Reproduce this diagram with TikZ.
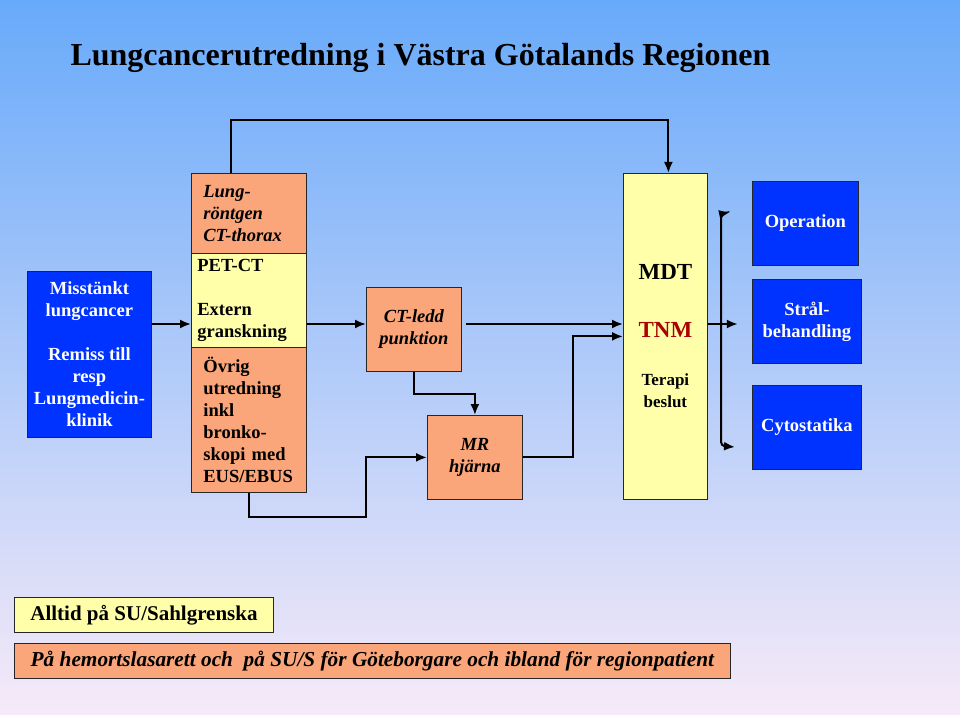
\documentclass[tikz,border=0pt]{standalone}
\usepackage{fontspec}
\setmainfont{Liberation Serif}
\usetikzlibrary{arrows.meta}

\definecolor{bluebox}{RGB}{0,51,255}
\definecolor{orangebox}{RGB}{250,166,122}
\definecolor{yellowbox}{RGB}{255,255,170}
\definecolor{tnmred}{RGB}{170,0,0}
\definecolor{bgtop}{RGB}{104,170,250}
\definecolor{bgmid}{RGB}{165,205,246}
\definecolor{bgbot}{RGB}{246,234,248}

\begin{document}
\begin{tikzpicture}[x=1pt, y=-1pt,
	box/.style={draw=black!85, line width=0.8pt, inner sep=0pt, anchor=north west},
	bluebx/.style={box, fill=bluebox, text=white, align=center, font=\bfseries\fontsize{18.5}{22}\selectfont},
	colbx/.style={box, align=left, text width=#1, font=\bfseries\fontsize{18.5}{22}\selectfont},
	conn/.style={line width=2pt, -{Latex[length=11pt,width=9pt]}}]

	% background
	\shade[top color=bgtop, middle color=bgmid, bottom color=bgbot] (0,0) rectangle (960,714);
	\useasboundingbox (0,0) rectangle (960,714);

	% title
	\node[anchor=west, font=\bfseries\fontsize{32}{36}\selectfont] (title) at (67,58) {Lungcancerutredning i Västra Götalands Regionen};

	% start
	\node[bluebx, minimum width=124pt, minimum height=166pt] (suspect) at (27,271)
		{Misstänkt\\lungcancer\\[22pt]Remiss till\\resp\\Lungmedicin-\\klinik};

	% middle column
	\node[colbx=91pt, fill=orangebox, minimum width=115pt, minimum height=80pt, inner xsep=12pt, font=\bfseries\itshape\fontsize{18.5}{22}\selectfont] (lung) at (191,173)
		{Lung-\\röntgen\\CT-thorax};
	\node[colbx=103pt, fill=yellowbox, minimum width=115pt, minimum height=94pt, inner xsep=6pt] (pet) at (191,253)
		{PET-CT\\[22pt]Extern\\granskning};
	\node[colbx=91pt, fill=orangebox, minimum width=115pt, minimum height=145pt, inner xsep=12pt] (other) at (191,347)
		{Övrig\\utredning\\inkl\\bronko-\\skopi med\\EUS/EBUS};

	% punction and brain
	\node[box, fill=orangebox, minimum width=95pt, minimum height=84pt, align=center, font=\bfseries\itshape\fontsize{18.5}{22}\selectfont] (ctp) at (366,287)
		{CT-ledd\\punktion};
	\node[box, fill=orangebox, minimum width=95pt, minimum height=84pt, align=center, font=\bfseries\itshape\fontsize{18.5}{22}\selectfont] (mr) at (427,415)
		{MR\\hjärna};

	% conference
	\node[box, fill=yellowbox, minimum width=84pt, minimum height=326pt, align=center, font=\bfseries\fontsize{17}{22}\selectfont] (mdt) at (623,173)
		{{\fontsize{23}{29}\selectfont MDT}\\[36pt]{\fontsize{23}{29}\selectfont\color{tnmred}TNM}\\[26pt]Terapi\\beslut};

	% treatment
	\node[bluebx, minimum width=106pt, minimum height=84pt] (op) at (752,181) {Operation};
	\node[bluebx, minimum width=109pt, minimum height=84pt] (rad) at (752,279) {Strål-\\behandling};
	\node[bluebx, minimum width=109pt, minimum height=84pt] (cyto) at (752,385) {Cytostatika};

	% where
	\node[box, fill=yellowbox, minimum width=256pt, minimum height=35pt, inner xsep=16pt, font=\bfseries\fontsize{21}{24}\selectfont] (always) at (14,597)
		{Alltid på SU/Sahlgrenska};
	\node[box, fill=orangebox, minimum width=716pt, minimum height=35pt, inner xsep=16pt, font=\bfseries\itshape\fontsize{21.3}{24}\selectfont] (local) at (14,643)
		{På hemortslasarett och \ på SU/S för Göteborgare och ibland för regionpatient};

	% connectors
	\coordinate (row) at (0,324);
	\draw[conn] (suspect.east |- row) -- (pet.west |- row);
	\draw[conn] (pet.east |- row) -- (ctp.west |- row);
	\draw[conn] ([xshift=4pt]ctp.east |- row) -- (mdt.west |- row);
	\draw[conn] (ctp.south) -- ++(0,22) -| (mr.north);
	\draw[conn] (other.south) -- ++(0,24) -- ++(117,0) |- (mr.west);
	\draw[conn] (mr.east) -- ++(50,0) |- (mdt.west);
	\draw[conn] ([xshift=-18pt]lung.north) -- ++(0,-53) -| ([xshift=3pt]mdt.north);

	% fan to treatments
	\coordinate (fanx) at (721,324);
	\coordinate (fantop) at (730,212);
	\coordinate (fanbot) at (735,447);
	\draw[conn] (mdt.east |- row) -- ++(30,0);
	\draw[conn, rounded corners=4pt] (fanx) -- (721,214) -- (fantop);
	\draw[conn, rounded corners=4pt] (fanx) -- (721,446) -- (fanbot);

\end{tikzpicture}
\end{document}
